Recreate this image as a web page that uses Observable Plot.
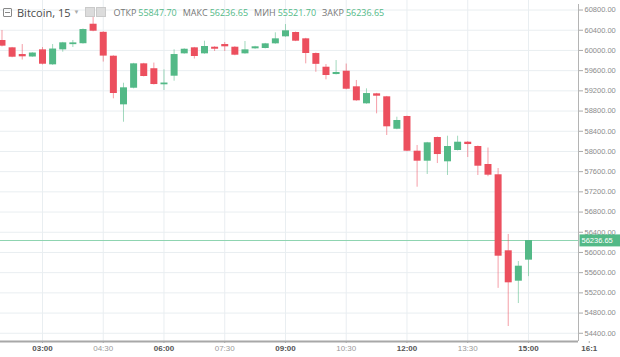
<!DOCTYPE html>
<html>
<head>
<meta charset="utf-8">
<script src="https://cdn.jsdelivr.net/npm/d3@7"></script>
<script src="https://cdn.jsdelivr.net/npm/@observablehq/plot@0.6"></script>
<style>
  html, body { margin: 0; padding: 0; background: #fff; }
  #wrap { position: relative; width: 620px; height: 357px; overflow: hidden; }
  #hdr { position: absolute; left: 3px; top: 4px; height: 16px; display: flex; align-items: center;
         font-family: "Open Sans", "Liberation Sans", sans-serif; white-space: nowrap; }
  #hdr .ico { display: inline-block; box-sizing: border-box; width: 9px; height: 9px; border: 1px solid #888;
              border-radius: 1px; position: relative; margin-right: 5px; }
  #hdr .ico::after { content: ""; position: absolute; left: 1px; right: 1px; top: 3px; height: 1px; background: #888; }
  #hdr .title { font-size: 11px; color: #4a4a4a; }
  #hdr .caret { font-size: 6px; color: #aaa; margin-left: 3px; margin-right: 6px; }
  #hdr .btn { display: inline-block; width: 8px; height: 8px; background: #dcdcdc; border: 1px solid #cacaca; margin-right: 1px; }
  #hdr .lab { font-size: 9px; color: #777; margin-left: 6px; }
  #hdr .lab:first-of-type { margin-left: 4px; }
  #hdr .val { font-size: 9px; color: #53b987; margin-left: 2px; }
</style>
</head>
<body>
<div id="wrap">
  <div id="chart"></div>
  <div id="hdr"></div>
</div>
<script>
// ---- data ----
const times = ["02:00","02:15","02:30","02:45","03:00","03:15","03:30","03:45","04:00","04:15",
  "04:30","04:45","05:00","05:15","05:30","05:45","06:00","06:15","06:30","06:45",
  "07:00","07:15","07:30","07:45","08:00","08:15","08:30","08:45","09:00","09:15",
  "09:30","09:45","10:00","10:15","10:30","10:45","11:00","11:15","11:30","11:45",
  "12:00","12:15","12:30","12:45","13:00","13:15","13:30","13:45","14:00","14:15",
  "14:30","14:45","15:00"];
const open  = [60197,60052,59919,59870,60012,59715,60012,60115,60133,60519,
  60359,59886,58923,59252,59735,59638,59320,59490,59933,60052,
  59933,60064,60117,60064,59933,60032,60038,60131,60270,60355,
  60230,59939,59668,59523,59589,59280,58943,59141,59082,58440,
  58692,58005,57807,58276,57795,58019,58183,58098,57742,57538,
  56033,55431,55847.70];
const high  = [60395,60060,60117,59955,60058,60117,60160,60197,60425,60731,
  60370,59895,59351,59745,59745,59750,59616,60012,60035,60060,
  60183,60075,60157,60075,60177,60082,60140,60349,60513,60365,
  60240,59950,59721,59800,59731,59405,59240,59150,59090,58678,
  58700,58118,58180,58285,58302,58302,58195,58108,58068,57662,
  56356,55821,56236.65];
const low   = [60070,59855,59810,59865,59712,59705,59965,60058,60125,60370,
  59770,59042,58579,59240,59475,59315,59207,59391,59925,59830,
  59925,59979,59979,59895,59925,60022,60030,60122,60260,60175,
  59735,59568,59418,59515,59222,58993,58935,58745,58316,58430,
  57995,57292,57544,57761,57524,58010,57880,57524,57500,55289,
  54534,54989,55521.70];
const close = [60085,59866,59874,59949,59727,60028,60151,60150,60414,60381,
  59888,59147,59260,59735,59484,59325,59355,59919,60024,59880,
  60078,60024,60072,59906,60012,60072,60131,60230,60389,60183,
  59939,59725,59504,59563,59232,59003,59147,59094,58488,58613,
  58005,57807,58171,57939,58098,58183,58137,57708,57530,55926,
  55399,55728,56236.65];
const yTicks = [54400,54800,55200,55600,56000,56400,56800,57200,57600,58000,
  58400,58800,59200,59600,60000,60400,60800];
const xTickTimes  = ["03:00","04:30","06:00","07:30","09:00","10:30","12:00","13:30","15:00","16:30"];
const xTickLabels = ["03:00","04:30","06:00","07:30","09:00","10:30","12:00","13:30","15:00","16:1"];
const majorTimes  = ["03:00","06:00","09:00","12:00","15:00","16:30"];
const title = "Bitcoin, 15";
const headerLabels = ["ОТКР","МАКС","МИН","ЗАКР"];

// ---- derived ----
const toMin = s => { const [h, m] = s.split(":").map(Number); return h * 60 + m; };
const data = times.map((t, i) => ({t: toMin(t), o: open[i], h: high[i], l: low[i], c: close[i]}));
const last = data[data.length - 1];
const lastPrice = last.c;
const labelMap = new Map(xTickTimes.map((t, i) => [toMin(t), xTickLabels[i]]));
const majorSet = new Set(majorTimes.map(toMin));
const xAll = xTickTimes.map(toMin);
const gridTicks = xAll.slice(0, -1);
const xDomain = [117.8, 974.1];
const yDomain = [54237, 60989];
const GREEN = "#53b987", RED = "#ec4f5e";
const col = d => d.c >= d.o ? GREEN : RED;

const chart = Plot.plot({
  width: 620, height: 357,
  marginLeft: 0, marginRight: 42, marginTop: 0, marginBottom: 16,
  style: {fontFamily: "'Liberation Sans', Arial, sans-serif", fontSize: "8px", background: "white", overflow: "visible"},
  x: {type: "linear", domain: xDomain, axis: null, label: null},
  y: {domain: yDomain, axis: null, label: null},
  marks: [
    Plot.gridY(yTicks, {stroke: "#e9eef1", strokeOpacity: 1}),
    Plot.gridX(gridTicks, {stroke: "#e9eef1", strokeOpacity: 1}),
    Plot.ruleY([lastPrice], {stroke: "#8fd4b1", strokeWidth: 1}),
    Plot.ruleX(data, {x: "t", y1: "l", y2: "h", stroke: col, strokeOpacity: 0.55, strokeWidth: 1}),
    Plot.ruleX(data, {x: "t", y1: "o", y2: "c", stroke: col, strokeWidth: 7}),
    Plot.ruleY([yDomain[0]], {stroke: "#a8a8a8", strokeWidth: 2}),
    Plot.ruleX([xDomain[1]], {stroke: "#b4b4b4", strokeWidth: 1, y1: yDomain[0], y2: yDomain[1], insetBottom: -4}),
    Plot.axisY(yTicks, {anchor: "right", tickSize: 4, tickPadding: 2, stroke: "#aaa", label: null,
      tickFormat: d => d.toFixed(2), fill: "#8c8c8c", fontSize: 7.5}),
    Plot.axisX(xAll.filter(d => !majorSet.has(d)), {anchor: "bottom", tickSize: 2, tickPadding: 2, stroke: "#aaa", label: null,
      tickFormat: d => labelMap.get(d), fill: "#9a9a9a", fontSize: 8}),
    Plot.axisX(xAll.filter(d => majorSet.has(d)), {anchor: "bottom", tickSize: 2, tickPadding: 2, stroke: "#aaa", label: null,
      tickFormat: d => labelMap.get(d), fill: "#555", fontSize: 8, fontWeight: "bold"}),
    Plot.text([lastPrice], {x: () => xDomain[1], y: d => d, text: d => d.toFixed(2), textAnchor: "start",
      dx: 3, fill: "white", fontSize: 7.5, className: "lastprice"})
  ]
});
document.getElementById("chart").appendChild(chart);

// green box behind last price label
const lp = d3.select(chart).select("g.lastprice");
const ttext = lp.select("text");
const tnode = ttext.node();
if (tnode) {
  const bb = tnode.getBBox();
  lp.insert("rect", "text")
    .attr("transform", ttext.attr("transform"))
    .attr("x", bb.x - 2).attr("y", bb.y - 1.5)
    .attr("width", 60).attr("height", bb.height + 3)
    .attr("fill", GREEN);
}

// header
const hdr = document.getElementById("hdr");
const vals = [last.o, last.h, last.l, last.c];
let html = `<span class="ico"></span><span class="title">${title}</span><span class="caret">▼</span>` +
  `<span class="btn"></span><span class="btn"></span>`;
headerLabels.forEach((l, i) => {
  html += `<span class="lab">${l}</span><span class="val">${vals[i].toFixed(2)}</span>`;
});
hdr.innerHTML = html;
</script>
</body>
</html>
